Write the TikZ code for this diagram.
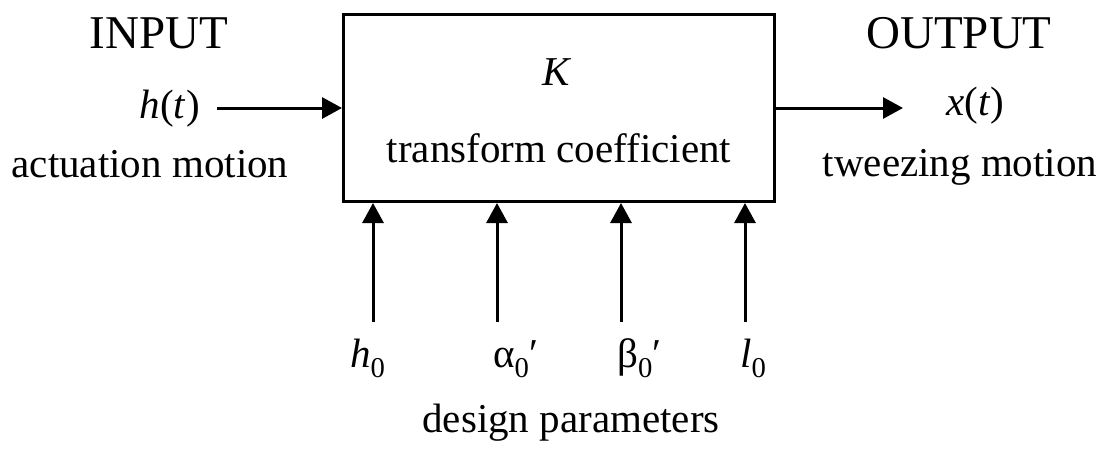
\documentclass[tikz,border=0pt]{standalone}
\usepackage{fontspec}
\setmainfont{Liberation Serif}
\usetikzlibrary{arrows.meta}

\begin{document}
\begin{tikzpicture}[
    x=1pt, y=-1pt,
    lbl/.style={inner sep=0pt, font=\fontsize{41}{49}\selectfont},
    head/.style={inner sep=0pt, font=\fontsize{47}{56}\selectfont},
    block/.style={draw, line width=3pt, minimum width=431pt, minimum height=187pt, inner sep=0pt},
    arrow/.style={-{Triangle[length=20pt, width=21pt]}, line width=3pt}
]
    \useasboundingbox (0,0) rectangle (1105,450);

    \node[block] (box) at (559,108) {};
    \node[lbl, anchor=base] (k) at (557,85) {\textit{K}};
    \node[lbl, anchor=base] (coef) at (559,162) {transform coefficient};

    \node[head, anchor=base] (inlbl) at (159,48) {INPUT};
    \node[lbl, anchor=base east] (ht) at (200,118) {\textit{h}(\textit{t})};
    \node[lbl, anchor=base] (act) at (150,177) {actuation motion};

    \node[head, anchor=base] (outlbl) at (959,48) {OUTPUT};
    \node[lbl, anchor=base] (xt) at (975,115) {\textit{x}(\textit{t})};
    \node[lbl, anchor=base] (tweez) at (960,176) {tweezing motion};

    \node[lbl, anchor=base west] (h0) at (350,367) {\textit{h}\textsubscript{0}};
    \node[lbl, anchor=base west] (a0) at (493,367) {α\textsubscript{0}′};
    \node[lbl, anchor=base west] (b0) at (617,367) {β\textsubscript{0}′};
    \node[lbl, anchor=base west] (l0) at (740,367) {\textit{l}\textsubscript{0}};
    \node[lbl, anchor=base] (design) at (571,432) {design parameters};

    \coordinate (hin) at (217,108);
    \coordinate (xout) at (903,108);
    \coordinate (ph0) at (373,322);
    \coordinate (pa0) at (497,322);
    \coordinate (pb0) at (621,322);
    \coordinate (pl0) at (745,322);

    \draw[arrow] (hin) -- (box.west);
    \draw[arrow] (box.east) -- (xout);
    \draw[arrow] (ph0) -- (ph0 |- box.south);
    \draw[arrow] (pa0) -- (pa0 |- box.south);
    \draw[arrow] (pb0) -- (pb0 |- box.south);
    \draw[arrow] (pl0) -- (pl0 |- box.south);
\end{tikzpicture}
\end{document}
